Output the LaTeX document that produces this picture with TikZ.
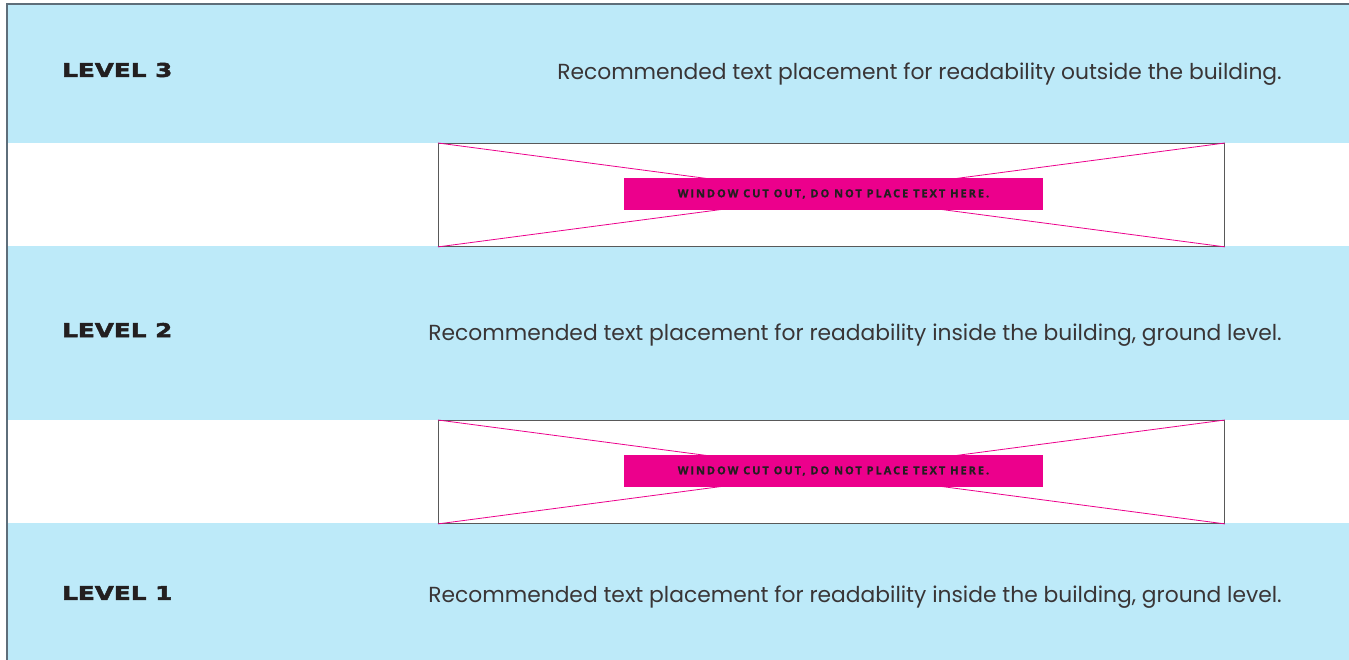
\documentclass[tikz,border=0pt]{standalone}
\usepackage{fontspec}
\setmainfont{Poppins}
\newfontfamily\levelfont{DejaVu Sans}[FakeStretch=1.3, FakeBold=2.5]
\newfontfamily\warnfont{Open Sans}[LetterSpace=18, FakeBold=1]
\usepackage{tikz}
\usetikzlibrary{calc}
\definecolor{band}{HTML}{BDEAF9}
\definecolor{pinkx}{HTML}{EC008C}
\definecolor{ink}{HTML}{231F20}
\definecolor{frame}{HTML}{5E6E7A}
\tikzset{
  bandfill/.style={fill=band, draw=none},
  window/.style={draw=black!65, line width=0.9pt, fill=white, minimum width=786pt, minimum height=103pt, inner sep=0pt, anchor=north west},
  cross/.style={draw=pinkx, line width=0.8pt},
  warn/.style={fill=pinkx, text=ink, minimum width=419pt, minimum height=32pt, inner sep=0pt, font=\warnfont\bfseries\fontsize{11}{12}\selectfont},
  level/.style={text=ink, font=\levelfont\bfseries\fontsize{19}{20}\selectfont, anchor=west, inner sep=0pt},
  desc/.style={text=ink!90, font=\fontsize{21.8}{24}\selectfont, anchor=east, inner sep=0pt},
}
\begin{document}
\begin{tikzpicture}[x=1pt, y=-1pt]
  \useasboundingbox (0,0) rectangle (1349,660);
  \fill[white] (0,0) rectangle (1349,660);

  % floor bands
  \fill[bandfill] (7,4) rectangle (1349,143);
  \fill[bandfill] (7,246) rectangle (1349,420);
  \fill[bandfill] (7,523) rectangle (1349,660);
  \draw[frame, line width=1.2pt] (7,660) -- (7,4) -- (1349,4);

  % window cut outs
  \node[window] (win3) at (438,143) {};
  \node[window] (win2) at (438,420) {};
  \foreach \w in {win3,win2} {
    \draw[cross] (\w.north west) -- (\w.south east);
    \draw[cross] (\w.south west) -- (\w.north east);
  }
  \node[warn] (warn3) at (833.5,194) {WINDOW CUT OUT, DO NOT PLACE TEXT HERE.};
  \node[warn] (warn2) at (833.5,471) {WINDOW CUT OUT, DO NOT PLACE TEXT HERE.};

  % levels
  \node[level] (lev3) at (62,70) {LEVEL 3};
  \node[level] (lev2) at (62,330) {LEVEL 2};
  \node[level] (lev1) at (62,593) {LEVEL 1};

  \node[desc] (txt3) at (1282,74) {Recommended text placement for readability outside the building.};
  \node[desc] (txt2) at (1282,335) {Recommended text placement for readability inside the building, ground level.};
  \node[desc] (txt1) at (1282,597) {Recommended text placement for readability inside the building, ground level.};
\end{tikzpicture}
\end{document}
